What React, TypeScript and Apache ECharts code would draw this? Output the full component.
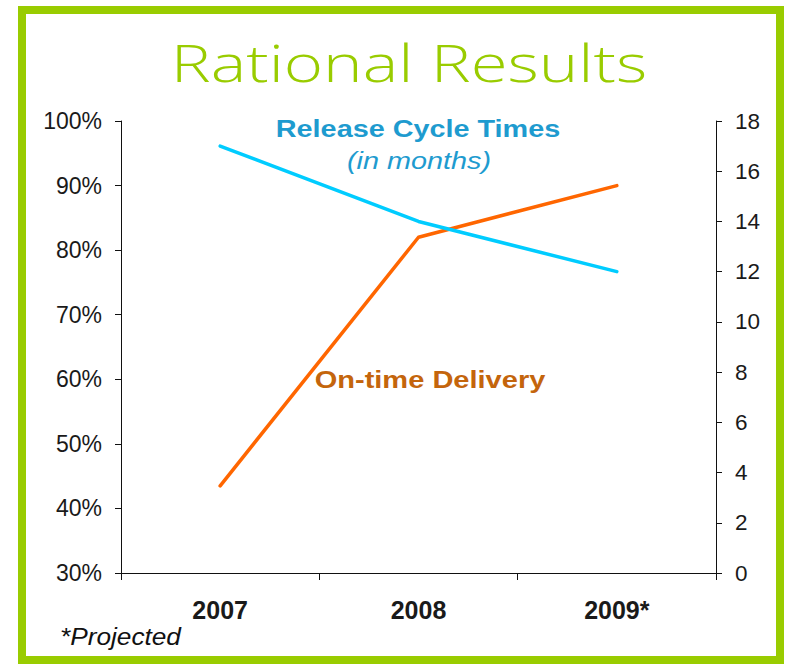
import React, { useEffect, useRef } from "react";
import * as echarts from "echarts";

const categories = ["2007", "2008", "2009*"];
const onTimeDelivery = [43.5, 82, 90];
const releaseCycleMonths = [17, 14, 12];
const leftAxisRange = { min: 30, max: 100, interval: 10 };
const rightAxisRange = { min: 0, max: 18, interval: 2 };

const titleText = "Rational Results";
const releaseLabel = "Release Cycle Times";
const releaseSubLabel = "(in months)";
const deliveryLabel = "On-time Delivery";
const footnote = "*Projected";

const GREEN = "#99cc00";
const BLUE_TEXT = "#1e9bcf";
const ORANGE_TEXT = "#c4650c";
const FONT = "'Liberation Sans', Arial, sans-serif";

export default function App() {
  const ref = useRef<HTMLDivElement>(null);
  useEffect(() => {
    if (!ref.current) return;
    const chart = echarts.init(ref.current, null, { renderer: "svg" });
    const axisLabelBase = { color: "#1a1a1a", fontFamily: FONT };
    chart.setOption({
      animation: false,
      backgroundColor: "#ffffff",
      grid: { left: 121, right: 69, top: 121, bottom: 92, containLabel: false, outerBoundsMode: "none" },
      xAxis: {
        type: "category",
        data: categories,
        boundaryGap: true,
        axisLine: { show: true, lineStyle: { color: "#111", width: 1 } },
        axisTick: { show: true, length: 7, lineStyle: { color: "#111" } },
        axisLabel: { ...axisLabelBase, fontSize: 25, fontWeight: "bold", margin: 24 },
        splitLine: { show: false },
      },
      yAxis: [
        {
          type: "value",
          position: "left",
          ...leftAxisRange,
          axisLine: { show: true, lineStyle: { color: "#111", width: 1 } },
          axisTick: { show: true, length: 6, lineStyle: { color: "#111" } },
          axisLabel: { ...axisLabelBase, fontSize: 23, margin: 19, formatter: "{value}%" },
          splitLine: { show: false },
        },
        {
          type: "value",
          position: "right",
          ...rightAxisRange,
          axisLine: { show: true, lineStyle: { color: "#111", width: 1 } },
          axisTick: { show: true, length: 6, lineStyle: { color: "#111" } },
          axisLabel: { ...axisLabelBase, fontSize: 22.5, margin: 19 },
          splitLine: { show: false },
        },
      ],
      series: [
        {
          name: "On-time Delivery",
          type: "line",
          yAxisIndex: 0,
          data: onTimeDelivery,
          showSymbol: false,
          symbol: "none",
          lineStyle: { color: "#ff6600", width: 3.5, cap: "round", join: "round" },
          itemStyle: { color: "#ff6600" },
        },
        {
          name: "Release Cycle Times",
          type: "line",
          yAxisIndex: 1,
          data: releaseCycleMonths,
          showSymbol: false,
          symbol: "none",
          lineStyle: { color: "#00ccff", width: 3.5, cap: "round", join: "round" },
          itemStyle: { color: "#00ccff" },
        },
      ],
      graphic: [
        {
          type: "rect",
          shape: { x: 22, y: 10, width: 758, height: 650 },
          style: { fill: "none", stroke: GREEN, lineWidth: 8 },
          silent: true,
        },
        {
          type: "text",
          x: 409,
          y: 62,
          scaleX: 1.29,
          style: {
            text: titleText,
            fontFamily: "'Open Sans', sans-serif",
            fontWeight: 300,
            fontSize: 52,
            fill: GREEN,
            align: "center",
            verticalAlign: "middle",
          },
        },
        {
          type: "text",
          x: 418,
          y: 129,
          scaleX: 1.2,
          style: {
            text: releaseLabel,
            fontFamily: FONT,
            fontWeight: "bold",
            fontSize: 24,
            fill: BLUE_TEXT,
            align: "center",
            verticalAlign: "middle",
          },
        },
        {
          type: "text",
          x: 419,
          y: 161,
          scaleX: 1.2,
          style: {
            text: releaseSubLabel,
            fontFamily: FONT,
            fontStyle: "italic",
            fontSize: 24,
            fill: BLUE_TEXT,
            align: "center",
            verticalAlign: "middle",
          },
        },
        {
          type: "text",
          x: 430,
          y: 380,
          scaleX: 1.21,
          style: {
            text: deliveryLabel,
            fontFamily: FONT,
            fontWeight: "bold",
            fontSize: 24,
            fill: ORANGE_TEXT,
            align: "center",
            verticalAlign: "middle",
          },
        },
        {
          type: "text",
          x: 60,
          y: 637,
          scaleX: 1.14,
          style: {
            text: footnote,
            fontFamily: FONT,
            fontStyle: "italic",
            fontSize: 23,
            fill: "#111",
            align: "left",
            verticalAlign: "middle",
          },
        },
      ],
    });
    return () => chart.dispose();
  }, []);
  return (
    <div
      ref={ref}
      style={{ position: "absolute", left: 0, top: 0, width: 785, height: 665 }}
    />
  );
}
